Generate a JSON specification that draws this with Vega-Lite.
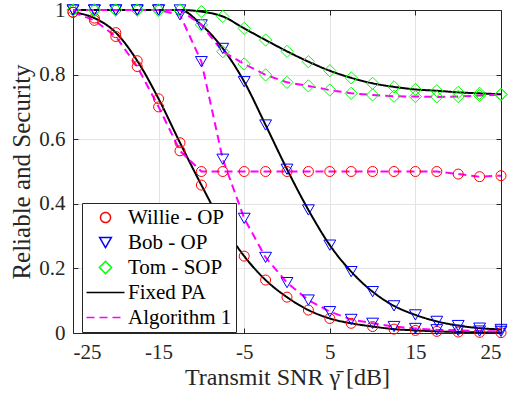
{
  "$schema": "https://vega.github.io/schema/vega-lite/v6.json",
  "autosize": "none",
  "width": 428,
  "height": 323,
  "padding": {"left": 73, "top": 10, "right": 12, "bottom": 63},
  "background": "white",
  "config": {
    "view": {"stroke": "#262626", "strokeWidth": 1},
    "font": "Liberation Serif",
    "axis": {
      "labelFont": "Liberation Serif",
      "titleFont": "Liberation Serif",
      "labelFontSize": 21,
      "titleFontSize": 24,
      "titleFontWeight": "normal",
      "labelColor": "#262626",
      "titleColor": "#262626",
      "domainColor": "#262626",
      "tickColor": "#262626",
      "gridColor": "#e3e3e3",
      "gridWidth": 1,
      "tickSize": -5
    },
    "legend": {
      "orient": "none",
      "legendX": 9,
      "legendY": 193,
      "padding": 4,
      "strokeColor": "#262626",
      "fillColor": "white",
      "labelFont": "Liberation Serif",
      "labelFontSize": 21,
      "labelColor": "black",
      "rowPadding": 3,
      "symbolOffset": 9,
      "labelOffset": 12,
      "symbolStrokeWidth": 1.5,
      "labelLimit": 300
    }
  },
  "data": {"values": [
    {"x":-25,"y":0.993,"s":"Willie - OP","m":"Fixed PA"},
    {"x":-22.5,"y":0.975,"s":"Willie - OP","m":"Fixed PA"},
    {"x":-20,"y":0.93,"s":"Willie - OP","m":"Fixed PA"},
    {"x":-17.5,"y":0.843,"s":"Willie - OP","m":"Fixed PA"},
    {"x":-15,"y":0.725,"s":"Willie - OP","m":"Fixed PA"},
    {"x":-12.5,"y":0.589,"s":"Willie - OP","m":"Fixed PA"},
    {"x":-10,"y":0.458,"s":"Willie - OP","m":"Fixed PA"},
    {"x":-7.5,"y":0.335,"s":"Willie - OP","m":"Fixed PA"},
    {"x":-5,"y":0.238,"s":"Willie - OP","m":"Fixed PA"},
    {"x":-2.5,"y":0.164,"s":"Willie - OP","m":"Fixed PA"},
    {"x":0,"y":0.111,"s":"Willie - OP","m":"Fixed PA"},
    {"x":2.5,"y":0.071,"s":"Willie - OP","m":"Fixed PA"},
    {"x":5,"y":0.045,"s":"Willie - OP","m":"Fixed PA"},
    {"x":7.5,"y":0.03,"s":"Willie - OP","m":"Fixed PA"},
    {"x":10,"y":0.02,"s":"Willie - OP","m":"Fixed PA"},
    {"x":12.5,"y":0.012,"s":"Willie - OP","m":"Fixed PA"},
    {"x":15,"y":0.008,"s":"Willie - OP","m":"Fixed PA"},
    {"x":17.5,"y":0.005,"s":"Willie - OP","m":"Fixed PA"},
    {"x":20,"y":0.003,"s":"Willie - OP","m":"Fixed PA"},
    {"x":22.5,"y":0.002,"s":"Willie - OP","m":"Fixed PA"},
    {"x":25,"y":0.001,"s":"Willie - OP","m":"Fixed PA"},

    {"x":-25,"y":0.993,"s":"Willie - OP","m":"Algorithm 1"},
    {"x":-22.5,"y":0.968,"s":"Willie - OP","m":"Algorithm 1"},
    {"x":-20,"y":0.918,"s":"Willie - OP","m":"Algorithm 1"},
    {"x":-17.5,"y":0.825,"s":"Willie - OP","m":"Algorithm 1"},
    {"x":-15,"y":0.70,"s":"Willie - OP","m":"Algorithm 1"},
    {"x":-12.5,"y":0.564,"s":"Willie - OP","m":"Algorithm 1"},
    {"x":-10,"y":0.50,"s":"Willie - OP","m":"Algorithm 1"},
    {"x":-7.5,"y":0.50,"s":"Willie - OP","m":"Algorithm 1"},
    {"x":-5,"y":0.50,"s":"Willie - OP","m":"Algorithm 1"},
    {"x":-2.5,"y":0.50,"s":"Willie - OP","m":"Algorithm 1"},
    {"x":0,"y":0.50,"s":"Willie - OP","m":"Algorithm 1"},
    {"x":2.5,"y":0.50,"s":"Willie - OP","m":"Algorithm 1"},
    {"x":5,"y":0.50,"s":"Willie - OP","m":"Algorithm 1"},
    {"x":7.5,"y":0.50,"s":"Willie - OP","m":"Algorithm 1"},
    {"x":10,"y":0.50,"s":"Willie - OP","m":"Algorithm 1"},
    {"x":12.5,"y":0.50,"s":"Willie - OP","m":"Algorithm 1"},
    {"x":15,"y":0.50,"s":"Willie - OP","m":"Algorithm 1"},
    {"x":17.5,"y":0.50,"s":"Willie - OP","m":"Algorithm 1"},
    {"x":20,"y":0.492,"s":"Willie - OP","m":"Algorithm 1"},
    {"x":22.5,"y":0.484,"s":"Willie - OP","m":"Algorithm 1"},
    {"x":25,"y":0.487,"s":"Willie - OP","m":"Algorithm 1"},

    {"x":-25,"y":1,"s":"Bob - OP","m":"Fixed PA"},
    {"x":-22.5,"y":1,"s":"Bob - OP","m":"Fixed PA"},
    {"x":-20,"y":1,"s":"Bob - OP","m":"Fixed PA"},
    {"x":-17.5,"y":1,"s":"Bob - OP","m":"Fixed PA"},
    {"x":-15,"y":1,"s":"Bob - OP","m":"Fixed PA"},
    {"x":-12.5,"y":1,"s":"Bob - OP","m":"Fixed PA"},
    {"x":-10,"y":0.954,"s":"Bob - OP","m":"Fixed PA"},
    {"x":-7.5,"y":0.881,"s":"Bob - OP","m":"Fixed PA"},
    {"x":-5,"y":0.778,"s":"Bob - OP","m":"Fixed PA"},
    {"x":-2.5,"y":0.644,"s":"Bob - OP","m":"Fixed PA"},
    {"x":0,"y":0.507,"s":"Bob - OP","m":"Fixed PA"},
    {"x":2.5,"y":0.381,"s":"Bob - OP","m":"Fixed PA"},
    {"x":5,"y":0.272,"s":"Bob - OP","m":"Fixed PA"},
    {"x":7.5,"y":0.19,"s":"Bob - OP","m":"Fixed PA"},
    {"x":10,"y":0.128,"s":"Bob - OP","m":"Fixed PA"},
    {"x":12.5,"y":0.084,"s":"Bob - OP","m":"Fixed PA"},
    {"x":15,"y":0.056,"s":"Bob - OP","m":"Fixed PA"},
    {"x":17.5,"y":0.036,"s":"Bob - OP","m":"Fixed PA"},
    {"x":20,"y":0.023,"s":"Bob - OP","m":"Fixed PA"},
    {"x":22.5,"y":0.015,"s":"Bob - OP","m":"Fixed PA"},
    {"x":25,"y":0.011,"s":"Bob - OP","m":"Fixed PA"},

    {"x":-25,"y":1,"s":"Bob - OP","m":"Algorithm 1"},
    {"x":-22.5,"y":1,"s":"Bob - OP","m":"Algorithm 1"},
    {"x":-20,"y":1,"s":"Bob - OP","m":"Algorithm 1"},
    {"x":-17.5,"y":1,"s":"Bob - OP","m":"Algorithm 1"},
    {"x":-15,"y":1,"s":"Bob - OP","m":"Algorithm 1"},
    {"x":-12.5,"y":0.985,"s":"Bob - OP","m":"Algorithm 1"},
    {"x":-10,"y":0.84,"s":"Bob - OP","m":"Algorithm 1"},
    {"x":-7.5,"y":0.538,"s":"Bob - OP","m":"Algorithm 1"},
    {"x":-5,"y":0.355,"s":"Bob - OP","m":"Algorithm 1"},
    {"x":-2.5,"y":0.234,"s":"Bob - OP","m":"Algorithm 1"},
    {"x":0,"y":0.156,"s":"Bob - OP","m":"Algorithm 1"},
    {"x":2.5,"y":0.102,"s":"Bob - OP","m":"Algorithm 1"},
    {"x":5,"y":0.066,"s":"Bob - OP","m":"Algorithm 1"},
    {"x":7.5,"y":0.042,"s":"Bob - OP","m":"Algorithm 1"},
    {"x":10,"y":0.03,"s":"Bob - OP","m":"Algorithm 1"},
    {"x":12.5,"y":0.02,"s":"Bob - OP","m":"Algorithm 1"},
    {"x":15,"y":0.014,"s":"Bob - OP","m":"Algorithm 1"},
    {"x":17.5,"y":0.01,"s":"Bob - OP","m":"Algorithm 1"},
    {"x":20,"y":0.008,"s":"Bob - OP","m":"Algorithm 1"},
    {"x":22.5,"y":0.006,"s":"Bob - OP","m":"Algorithm 1"},
    {"x":25,"y":0.005,"s":"Bob - OP","m":"Algorithm 1"},

    {"x":-25,"y":1,"s":"Tom - SOP","m":"Fixed PA"},
    {"x":-22.5,"y":1,"s":"Tom - SOP","m":"Fixed PA"},
    {"x":-20,"y":1,"s":"Tom - SOP","m":"Fixed PA"},
    {"x":-17.5,"y":1,"s":"Tom - SOP","m":"Fixed PA"},
    {"x":-15,"y":1,"s":"Tom - SOP","m":"Fixed PA"},
    {"x":-12.5,"y":1,"s":"Tom - SOP","m":"Fixed PA"},
    {"x":-10,"y":0.995,"s":"Tom - SOP","m":"Fixed PA"},
    {"x":-7.5,"y":0.98,"s":"Tom - SOP","m":"Fixed PA"},
    {"x":-5,"y":0.943,"s":"Tom - SOP","m":"Fixed PA"},
    {"x":-2.5,"y":0.907,"s":"Tom - SOP","m":"Fixed PA"},
    {"x":0,"y":0.872,"s":"Tom - SOP","m":"Fixed PA"},
    {"x":2.5,"y":0.84,"s":"Tom - SOP","m":"Fixed PA"},
    {"x":5,"y":0.812,"s":"Tom - SOP","m":"Fixed PA"},
    {"x":7.5,"y":0.79,"s":"Tom - SOP","m":"Fixed PA"},
    {"x":10,"y":0.773,"s":"Tom - SOP","m":"Fixed PA"},
    {"x":12.5,"y":0.762,"s":"Tom - SOP","m":"Fixed PA"},
    {"x":15,"y":0.754,"s":"Tom - SOP","m":"Fixed PA"},
    {"x":17.5,"y":0.75,"s":"Tom - SOP","m":"Fixed PA"},
    {"x":20,"y":0.745,"s":"Tom - SOP","m":"Fixed PA"},
    {"x":22.5,"y":0.742,"s":"Tom - SOP","m":"Fixed PA"},
    {"x":25,"y":0.739,"s":"Tom - SOP","m":"Fixed PA"},

    {"x":-25,"y":1,"s":"Tom - SOP","m":"Algorithm 1"},
    {"x":-22.5,"y":1,"s":"Tom - SOP","m":"Algorithm 1"},
    {"x":-20,"y":1,"s":"Tom - SOP","m":"Algorithm 1"},
    {"x":-17.5,"y":1,"s":"Tom - SOP","m":"Algorithm 1"},
    {"x":-15,"y":1,"s":"Tom - SOP","m":"Algorithm 1"},
    {"x":-12.5,"y":1,"s":"Tom - SOP","m":"Algorithm 1"},
    {"x":-10,"y":0.954,"s":"Tom - SOP","m":"Algorithm 1"},
    {"x":-7.5,"y":0.871,"s":"Tom - SOP","m":"Algorithm 1"},
    {"x":-5,"y":0.833,"s":"Tom - SOP","m":"Algorithm 1"},
    {"x":-2.5,"y":0.799,"s":"Tom - SOP","m":"Algorithm 1"},
    {"x":0,"y":0.776,"s":"Tom - SOP","m":"Algorithm 1"},
    {"x":2.5,"y":0.765,"s":"Tom - SOP","m":"Algorithm 1"},
    {"x":5,"y":0.752,"s":"Tom - SOP","m":"Algorithm 1"},
    {"x":7.5,"y":0.742,"s":"Tom - SOP","m":"Algorithm 1"},
    {"x":10,"y":0.737,"s":"Tom - SOP","m":"Algorithm 1"},
    {"x":12.5,"y":0.733,"s":"Tom - SOP","m":"Algorithm 1"},
    {"x":15,"y":0.732,"s":"Tom - SOP","m":"Algorithm 1"},
    {"x":17.5,"y":0.731,"s":"Tom - SOP","m":"Algorithm 1"},
    {"x":20,"y":0.732,"s":"Tom - SOP","m":"Algorithm 1"},
    {"x":22.5,"y":0.735,"s":"Tom - SOP","m":"Algorithm 1"},
    {"x":25,"y":0.738,"s":"Tom - SOP","m":"Algorithm 1"}
  ]},
  "resolve": {"axis": {"x": "independent", "y": "independent"}},
  "layer": [
    {
      "transform": [{"filter": "datum.m === 'Fixed PA'"}],
      "mark": {"type": "line", "interpolate": "monotone", "strokeWidth": 2},
      "encoding": {
        "x": {"field": "x", "type": "quantitative",
              "scale": {"domain": [-25, 25], "nice": false, "zero": false},
              "axis": {"title": "Transmit SNR γ̄ [dB]", "values": [-25, -15, -5, 5, 15, 25], "labelExpr": "datum.value + ''", "labelPadding": 13, "titlePadding": 3}},
        "y": {"field": "y", "type": "quantitative",
              "scale": {"domain": [0, 1], "nice": false},
              "axis": {"title": "Reliable and Security", "titleFontSize": 25, "values": [0, 0.2, 0.4, 0.6, 0.8, 1], "format": "~g", "labelPadding": 13, "titlePadding": 4}},
        "detail": {"field": "s"},
        "color": {"field": "m", "type": "nominal",
                  "scale": {"domain": ["Willie - OP", "Bob - OP", "Tom - SOP", "Fixed PA", "Algorithm 1"],
                            "range": ["#ff0000", "#0000ff", "#00ff00", "#000000", "#ff00ff"]},
                  "legend": {"title": null}},
        "strokeDash": {"field": "m", "type": "nominal",
                  "scale": {"domain": ["Willie - OP", "Bob - OP", "Tom - SOP", "Fixed PA", "Algorithm 1"],
                            "range": [[1, 0], [1, 0], [1, 0], [1, 0], [8, 5]]},
                  "legend": {"title": null}}
      }
    },
    {
      "transform": [{"filter": "datum.m === 'Algorithm 1'"}],
      "mark": {"type": "line", "strokeWidth": 2},
      "encoding": {
        "x": {"field": "x", "type": "quantitative",
              "axis": {"orient": "top", "title": null, "labels": false, "grid": false, "values": [-25, -15, -5, 5, 15, 25]}},
        "y": {"field": "y", "type": "quantitative",
              "axis": {"orient": "right", "title": null, "labels": false, "grid": false, "values": [0, 0.2, 0.4, 0.6, 0.8, 1]}},
        "detail": {"field": "s"},
        "color": {"field": "m", "type": "nominal", "legend": {"title": null}},
        "strokeDash": {"field": "m", "type": "nominal", "legend": {"title": null}}
      }
    },
    {
      "mark": {"type": "point", "filled": false, "opacity": 1, "strokeWidth": 1},
      "encoding": {
        "x": {"field": "x", "type": "quantitative", "axis": null},
        "y": {"field": "y", "type": "quantitative", "axis": null},
        "color": {"field": "s", "type": "nominal", "legend": {"title": null}},
        "shape": {"field": "s", "type": "nominal",
                  "scale": {"domain": ["Willie - OP", "Bob - OP", "Tom - SOP", "Fixed PA", "Algorithm 1"],
                            "range": ["circle", "triangle-down", "diamond", "M-3.8,0H3.8", "M-3.8,0H3.8"]},
                  "legend": {"title": null}},
        "size": {"field": "s", "type": "nominal",
                 "scale": {"type": "ordinal", "domain": ["Willie - OP", "Bob - OP", "Tom - SOP", "Fixed PA", "Algorithm 1"],
                           "range": [100, 140, 150, 100, 100]},
                 "legend": {"title": null}}
      }
    }
  ]
}
